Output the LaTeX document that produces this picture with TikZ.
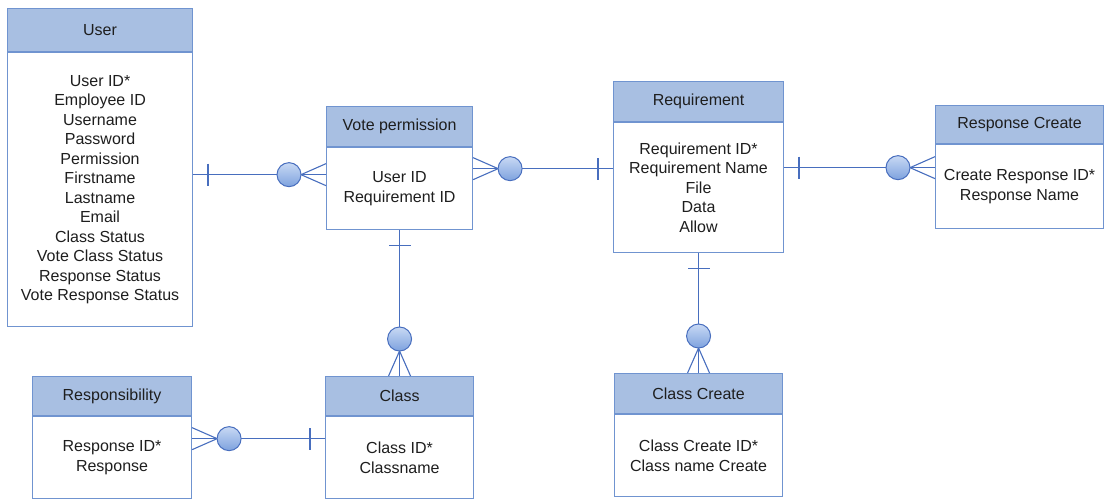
\documentclass[tikz,border=0pt]{standalone}
\usepackage{fontspec}
\setmainfont{Liberation Sans}
\usetikzlibrary{positioning,calc}

\definecolor{erline}{RGB}{72,110,190}
\definecolor{erhead}{RGB}{168,191,226}
\definecolor{erborder}{RGB}{112,148,208}
\definecolor{ertext}{RGB}{30,30,30}
\definecolor{ringtop}{RGB}{200,217,244}
\definecolor{ringbot}{RGB}{126,162,222}

% one side at #1 (bar), many side at #2 (ring and crow's foot)
\newcommand{\onemany}[2]{
	\draw[rel] (#1) -- (#2);
	\draw[rel] ($(#1)!15pt!(#2)!11pt!90:(#2)$) -- ($(#1)!15pt!(#2)!11pt!-90:(#2)$);
	\draw[rel, line width=1.1pt] ($(#2)!11pt!90:(#1)$) -- ($(#2)!25pt!(#1)$) -- ($(#2)!11pt!-90:(#1)$);
	\node[ring] at ($(#2)!37pt!(#1)$) {};
}

\begin{document}
\begin{tikzpicture}[x=1pt, y=-1pt, node distance=0pt]
	
	\useasboundingbox (0,0) rectangle (1105,499);
	
	\tikzstyle{head}=[draw=erborder,fill=erhead,rectangle,line width=1.1pt,anchor=north west,text=ertext,font=\fontsize{16}{19}\selectfont]
	\tikzstyle{body}=[draw=erborder,fill=white,rectangle,line width=1.1pt,align=center,text=ertext,font=\fontsize{16}{19.5}\selectfont]
	\tikzstyle{rel}=[draw=erline,line width=1.4pt]
	\tikzstyle{ring}=[circle,draw=erline,line width=1pt,top color=ringtop,bottom color=ringbot,minimum size=24pt,inner sep=0pt]
	
	% entities
	\node[head, minimum width=185, minimum height=43] (userh) at (7,8) {User};
	\node[body, minimum width=185, minimum height=274, below=of userh] (user) {User ID*\\Employee ID\\Username\\Password\\Permission\\Firstname\\Lastname\\Email\\Class Status\\Vote Class Status\\Response Status\\Vote Response Status};
	
	\node[head, minimum width=146, minimum height=40] (vph) at (326,106) {Vote permission};
	\node[body, minimum width=146, minimum height=82, below=of vph] (vp) {User ID\\Requirement ID};
	
	\node[head, minimum width=170, minimum height=40] (reqh) at (613,81) {Requirement};
	\node[body, minimum width=170, minimum height=130, below=of reqh] (req) {Requirement ID*\\Requirement Name\\File\\Data\\Allow};
	
	\node[head, minimum width=168, minimum height=38] (rch) at (935,105) {Response Create};
	\node[body, minimum width=168, minimum height=84, below=of rch] (rc) {Create Response ID*\\Response Name};
	
	\node[head, minimum width=159, minimum height=39] (resph) at (32,376) {Responsibility};
	\node[body, minimum width=159, minimum height=82, below=of resph] (resp) {Response ID*\\Response};
	
	\node[head, minimum width=148, minimum height=39] (clsh) at (325,376) {Class};
	\node[body, minimum width=148, minimum height=82, below=of clsh] (cls) {Class ID*\\Classname};
	
	\node[head, minimum width=168, minimum height=40] (cch) at (614,373) {Class Create};
	\node[body, minimum width=168, minimum height=82, below=of cch] (cc) {Class Create ID*\\Class name Create};
	
	% relationships
	\coordinate (vp-l) at ([yshift=14pt]vp.west);
	\coordinate (user-r) at (user.east |- vp-l);
	\onemany{user-r}{vp-l}
	
	\coordinate (vp-r) at ([yshift=20pt]vp.east);
	\coordinate (req-l) at (req.west |- vp-r);
	\onemany{req-l}{vp-r}
	
	\coordinate (req-r) at ([yshift=20pt]req.east);
	\coordinate (rc-l) at (rc.west |- req-r);
	\onemany{req-r}{rc-l}
	
	\onemany{vp.south}{clsh.north}
	\onemany{req.south}{cch.north}
	
	\coordinate (cls-l) at ([yshift=19pt]cls.west);
	\coordinate (resp-r) at (resp.east |- cls-l);
	\onemany{cls-l}{resp-r}
	
\end{tikzpicture}
\end{document}
